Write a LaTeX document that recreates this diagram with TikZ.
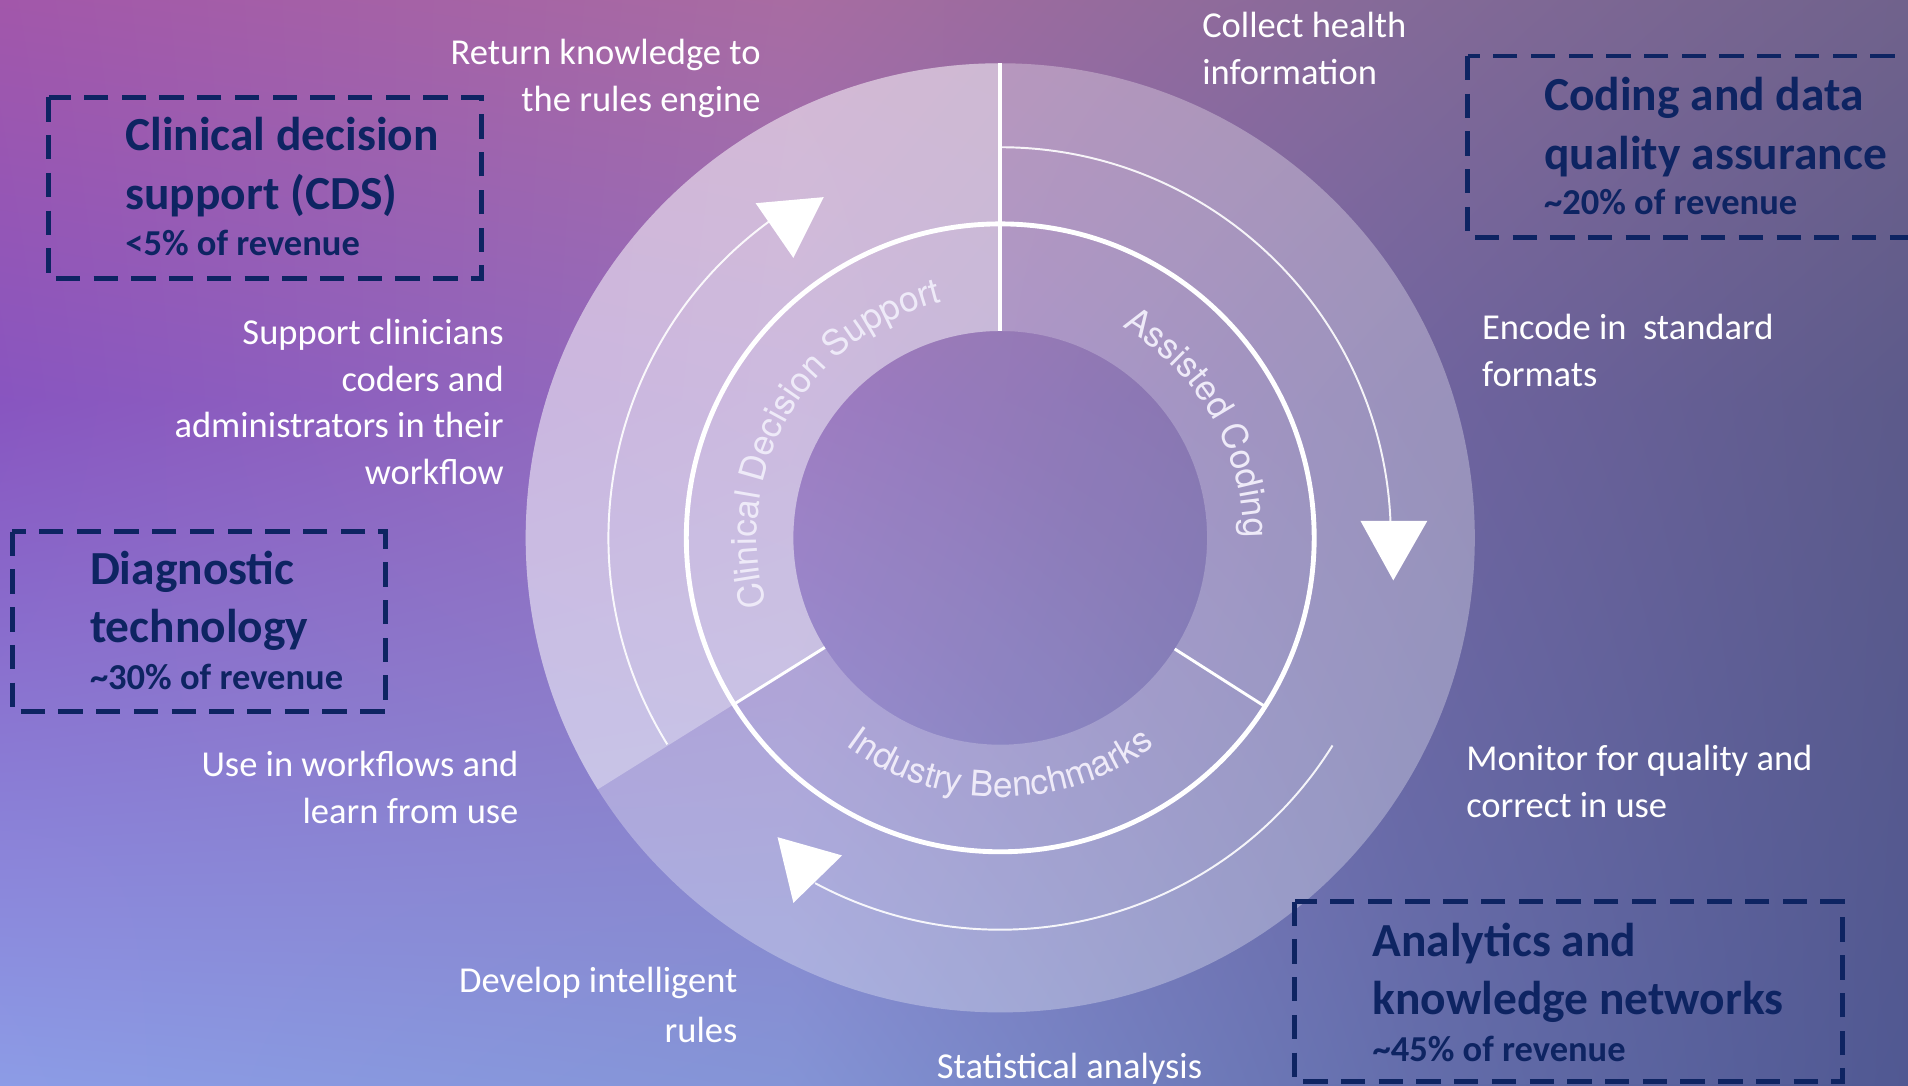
\documentclass[tikz,border=0pt]{standalone}
\usepackage{fontspec}
\setmainfont{Carlito}
\newfontfamily\ringfont{TeX Gyre Heros}
\usetikzlibrary{decorations.text,shadings}
\definecolor{c00}{RGB}{162,87,170}
\definecolor{c01}{RGB}{168,108,162}
\definecolor{c02}{RGB}{132,106,152}
\definecolor{c03}{RGB}{112,98,140}
\definecolor{c10}{RGB}{136,85,192}
\definecolor{c11}{RGB}{148,110,188}
\definecolor{c12}{RGB}{112,100,160}
\definecolor{c13}{RGB}{92,90,138}
\definecolor{c20}{RGB}{140,156,230}
\definecolor{c21}{RGB}{132,148,214}
\definecolor{c22}{RGB}{100,110,172}
\definecolor{c23}{RGB}{80,88,146}
\definecolor{navy}{RGB}{14,36,98}
\definecolor{ringtxt}{RGB}{238,234,248}
\tikzset{
  lbl/.style={text=white, inner sep=0pt, outer sep=0pt, font=\fontsize{15}{19.25}\selectfont},
  ttl/.style={text=navy, inner sep=0pt, outer sep=0pt, align=left, anchor=north west, font=\bfseries\fontsize{19.5}{24}\selectfont},
  rev/.style={text=navy, inner sep=0pt, outer sep=0pt, anchor=base west, font=\bfseries\fontsize{15}{19}\selectfont},
  dbox/.style={draw=navy, line width=2pt, dash pattern=on 10pt off 5.5pt},
  thinarc/.style={draw=white, draw opacity=0.9, line width=0.8pt},
  arrowtri/.style={fill=white},
  ringlabel/.style={decorate, decoration={text along path, text align=center,
     text={|\ringfont\fontsize{14.5}{17}\selectfont\color{ringtxt}|#1}}}
}
\begin{document}
\begin{tikzpicture}[x=0.5pt,y=-0.5pt]
\useasboundingbox (0,0) rectangle (1568,892);
\clip (0,0) rectangle (1568,892);
% background
\shade[upper left=c00,upper right=c01,lower left=c10,lower right=c11] (-1,-1) rectangle (651,331);
\shade[upper left=c01,upper right=c02,lower left=c11,lower right=c12] (649,-1) rectangle (1151,331);
\shade[upper left=c02,upper right=c03,lower left=c12,lower right=c13] (1149,-1) rectangle (1569,331);
\shade[upper left=c10,upper right=c11,lower left=c20,lower right=c21] (-1,329) rectangle (651,893);
\shade[upper left=c11,upper right=c12,lower left=c21,lower right=c22] (649,329) rectangle (1151,893);
\shade[upper left=c12,upper right=c13,lower left=c22,lower right=c23] (1149,329) rectangle (1569,893);

% ring
\begin{scope}[shift={(822,442)}, y=0.5pt]
  \fill[white, opacity=0.30, even odd rule] (0,0) circle[radius=195pt] (0,0) circle[radius=85pt];
  \fill[white, opacity=0.33] (90:170) -- (90:390) arc[start angle=90, end angle=212, radius=195pt]
      -- (212:170) arc[start angle=212, end angle=90, radius=85pt] -- cycle;
  \fill[white, opacity=0.10] (0,0) circle[radius=85pt];
  \draw[white, line width=2pt] (0,0) circle[radius=129pt];
  \draw[white, line width=1.5pt] (90:170) -- (90:390);
  \draw[white, line width=1.2pt] (212:170) -- (212:258);
  \draw[white, line width=1.2pt] (-32.5:170) -- (-32.5:258);
  \draw[thinarc] (90:321) arc[start angle=90, end angle=2.5, radius=160.5pt];
  \draw[thinarc] (-32:322) arc[start angle=-32, end angle=-118.2, radius=161pt];
  \draw[thinarc] (211.8:322) arc[start angle=211.8, end angle=126, radius=161pt];
  \path[ringlabel={Clinical Decision Support}] (210:200) arc[start angle=210, end angle=90, radius=100pt];
  \path[ringlabel={Assisted Coding}] (80:200) arc[start angle=80, end angle=-20, radius=100pt];
  \path[ringlabel={Industry Benchmarks}] (220:213) arc[start angle=220, end angle=320, radius=106.5pt];
\end{scope}

% arrow heads
\fill[arrowtri] (1118,428) -- (1173,428) -- (1145,477) -- cycle;
\fill[arrowtri] (639,688) -- (692,703) -- (652,742) -- cycle;
\fill[arrowtri] (621,167) -- (677,162) -- (652,212) -- cycle;

% dashed boxes
\draw[dbox] (40,80) rectangle (396,229);
\draw[dbox] (1206,46) rectangle (1620,195);
\draw[dbox] (10,437) rectangle (317,585);
\draw[dbox] (1064,741) rectangle (1514,889);

% box texts
\node[ttl] (cdsT) at (103,124-33.6) {\strut Clinical decision\\support (CDS)};
\node[rev] (cdsR) at (103,210) {<5\% of revenue};
\node[ttl] (codT) at (1269,91-33.6) {\strut Coding and data\\quality assurance};
\node[rev] (codR) at (1269,176) {\textasciitilde 20\% of revenue};
\node[ttl] (diaT) at (74,480-33.6) {\strut Diagnostic\\technology};
\node[rev] (diaR) at (74,567) {\textasciitilde 30\% of revenue};
\node[ttl] (anaT) at (1128,786-33.6) {\strut Analytics and\\knowledge networks};
\node[rev] (anaR) at (1128,872) {\textasciitilde 45\% of revenue};

% white labels
\node[lbl, align=right, anchor=north east] (ret) at (625,53-27) {\strut Return knowledge to\\the rules engine};
\node[lbl, align=left, anchor=north west] (col) at (988,31-27) {\strut Collect health\\information};
\node[lbl, align=left, anchor=north west] (enc) at (1218,279-27) {\strut Encode in\ \ standard\\formats};
\node[lbl, align=right, anchor=north east] (sup) at (414,283-27) {\strut Support clinicians\\coders and\\administrators in their\\workflow};
\node[lbl, align=right, anchor=north east] (use) at (426,638-27) {\strut Use in workflows and\\learn from use};
\node[lbl, align=left, anchor=north west] (mon) at (1205,633-27) {\strut Monitor for quality and\\correct in use};
\node[lbl, align=right, anchor=north east] (dev) at (606,816-27) {\strut Develop intelligent\\[1pt]rules};
\node[lbl, anchor=base west] (sta) at (770,886) {Statistical analysis};
\end{tikzpicture}
\end{document}
